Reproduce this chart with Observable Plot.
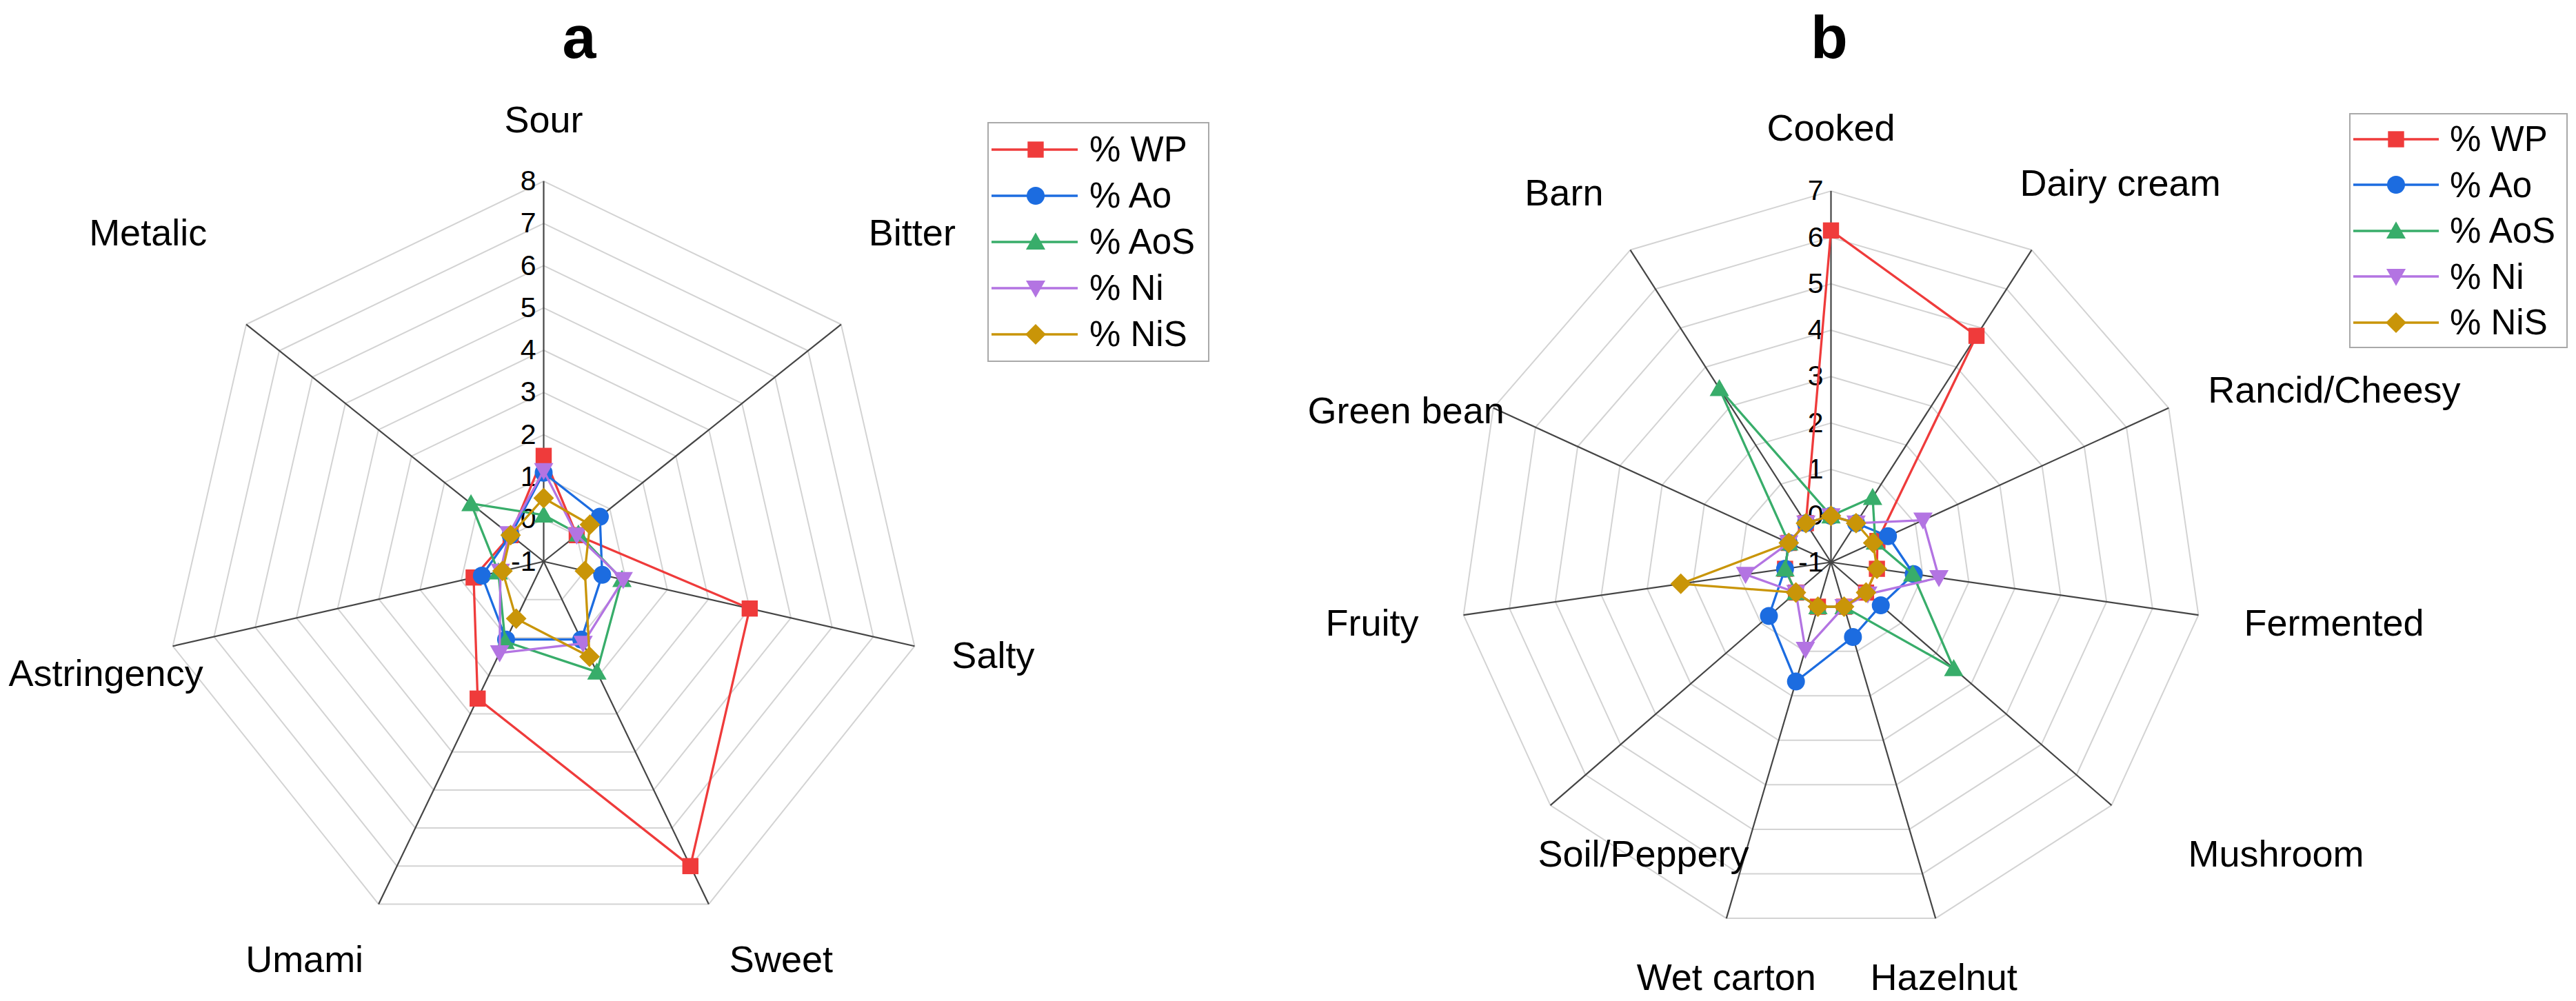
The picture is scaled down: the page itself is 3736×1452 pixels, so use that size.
<!DOCTYPE html>
<html>
<head>
<meta charset="utf-8">
<script src="https://cdn.jsdelivr.net/npm/d3@7"></script>
<script src="https://cdn.jsdelivr.net/npm/@observablehq/plot@0.6"></script>
<style>
  html, body { margin: 0; padding: 0; background: #fff; }
  #page { position: relative; width: 3736px; height: 1452px; overflow: hidden; font-family: "Liberation Sans", Arial, sans-serif; background: #fff; }
  .panel { position: absolute; top: 0; }
  .title { position: absolute; font-weight: bold; font-size: 88px; line-height: 1.15; transform: translateX(-50%); color: #000; }
  .legend { position: absolute; border: 2.5px solid #a9a9a9; background: #fff; box-sizing: border-box; }
  .legend .row { position: absolute; left: 0; height: 60px; display: flex; align-items: center; }
  .legend .row span { font-size: 51px; color: #000; white-space: nowrap; }
</style>
</head>
<body>
<div id="page"></div>
<script>
// ---------------- DATA ----------------
const seriesNames = ["% WP", "% Ao", "% AoS", "% Ni", "% NiS"];

// Panel a : taste attributes
const tasteAttributes = ["Sour", "Bitter", "Salty", "Sweet", "Umami", "Astringency", "Metalic"];
const tasteWP  = [1.5, 0.0, 4.0, 7.0, 2.6, 0.7, 0.0];
const tasteAo  = [1.1, 0.7, 0.42, 1.05, 1.05, 0.5, 0.0];
const tasteAoS = [0.1, 0.05, 0.9, 1.9, 1.1, 0.1, 1.2];
const tasteNi  = [1.15, 0.0, 0.93, 1.15, 1.4, 0.05, 0.05];
const tasteNiS = [0.5, 0.4, 0.0, 1.5, 0.5, 0.0, 0.0];
const tasteTicks = [-1, 0, 1, 2, 3, 4, 5, 6, 7, 8];

// Panel b : aroma attributes
const aromaAttributes = ["Cooked", "Dairy cream", "Rancid/Cheesy", "Fermented", "Mushroom", "Hazelnut", "Wet carton", "Soil/Peppery", "Fruity", "Green bean", "Barn"];
const aromaWP  = [6.15, 4.8, 0.1, 0.0, 0.0, 0.0, 0.0, 0.0, 0.0, 0.0, 0.0];
const aromaAo  = [0.0, 0.0, 0.35, 0.8, 0.42, 0.68, 1.68, 0.77, 0.0, 0.0, 0.0];
const aromaAoS = [0.0, 0.66, 0.05, 0.78, 2.5, 0.0, 0.0, 0.0, 0.0, 0.0, 3.45];
const aromaNi  = [0.0, 0.0, 1.18, 1.35, 0.05, 0.0, 0.96, 0.0, 0.86, 0.0, 0.0];
const aromaNiS = [0.0, 0.0, 0.0, 0.0, 0.0, 0.0, 0.0, 0.0, 2.27, 0.0, 0.0];
const aromaTicks = [-1, 0, 1, 2, 3, 4, 5, 6, 7];

// ---------------- STYLE / LAYOUT ----------------
const colors = ["#ef3b3b", "#1c6ce0", "#38ad6a", "#b374e2", "#c99508"];
// small pixel nudges of the category labels (Excel-like placement), by axis index
const tasteLabelNudge = [[0, 2], [-10, -76], [4, -6], [-20, 0], [28, 0], [0, 20], [-7, -76]];
const aromaLabelNudge = [[0, 0], [-67, -20], [7, 12], [16, 0], [61, 13], [12, 0], [0, 0], [338, 13], [-15, 0], [16, 42], [11, -6]];

function rOf(size) { return Math.sqrt(size / Math.PI); }
const symSquare = { draw(ctx, size) { const s = rOf(size) * 0.9; ctx.rect(-s, -s, 2 * s, 2 * s); } };
const symCircle = { draw(ctx, size) { const r = rOf(size); ctx.moveTo(r, 0); ctx.arc(0, 0, r, 0, 2 * Math.PI); } };
const symTriUp = { draw(ctx, size) { const r = rOf(size); const w = r * 1.08; ctx.moveTo(0, -r * 1.05); ctx.lineTo(w, r * 0.85); ctx.lineTo(-w, r * 0.85); ctx.closePath(); } };
const symTriDown = { draw(ctx, size) { const r = rOf(size); const w = r * 1.08; ctx.moveTo(0, r * 1.05); ctx.lineTo(w, -r * 0.85); ctx.lineTo(-w, -r * 0.85); ctx.closePath(); } };
const symDiamond = { draw(ctx, size) { const r = rOf(size) * 1.15; ctx.moveTo(0, -r); ctx.lineTo(r, 0); ctx.lineTo(0, r); ctx.lineTo(-r, 0); ctx.closePath(); } };
const symbols = [symSquare, symCircle, symTriUp, symTriDown, symDiamond];
const markerR = 13;

const measureCtx = document.createElement("canvas").getContext("2d");
function textWidth(t, px) { measureCtx.font = `${px}px "Liberation Sans", Arial, sans-serif`; return measureCtx.measureText(t).width; }

const page = document.getElementById("page");
const PAGE_H = 1452;

function radar(cfg) {
  const { attrs, seriesValues, ticks, cx, cy, ppu, left, width, nudge } = cfg;
  const height = PAGE_H;
  const vmin = ticks[0], vmax = ticks[ticks.length - 1];
  const n = attrs.length;
  const ang = i => 2 * Math.PI * i / n;
  const pol = (i, v) => { const r = v - vmin; return { x: r * Math.sin(ang(i)), y: r * Math.cos(ang(i)) }; };

  // grid rings (one closed polygon per tick level)
  const rings = [];
  ticks.forEach(t => {
    if (t === vmin) return;
    for (let i = 0; i <= n; i++) { const p = pol(i % n, t); rings.push({ level: t, x: p.x, y: p.y }); }
  });
  // spokes
  const spokes = attrs.map((a, i) => { const p = pol(i, vmax); return { x1: 0, y1: 0, x2: p.x, y2: p.y }; });

  // category labels
  const labelPx = 54;
  const R = (vmax - vmin) * ppu;
  const labels = attrs.map((a, i) => {
    const s = Math.sin(ang(i)), c = Math.cos(ang(i));
    const vx = cx + R * s, vy = cy - R * c;
    const w = textWidth(a, labelPx);
    let bx = Math.abs(s) < 0.3 ? vx : vx + Math.sign(s) * (w / 2 + 50);
    let by = vy - c * 90;
    bx = Math.max(left + 12 + w / 2, Math.min(left + width - 12 - w / 2, bx));
    bx += nudge[i][0]; by += nudge[i][1];
    return { label: a, x: (bx - cx) / ppu, y: (cy - by) / ppu };
  });

  const marks = [
    Plot.line(rings, { x: "x", y: "y", z: "level", stroke: "#d3d3d3", strokeWidth: 2 }),
    Plot.link(spokes, { x1: "x1", y1: "y1", x2: "x2", y2: "y2", stroke: "#454545", strokeWidth: 2.2 }),
    Plot.text(ticks, { x: 0, y: t => t - vmin, text: t => String(t), textAnchor: "end", lineAnchor: "middle", dx: -11, fontSize: 41, fill: "#000" }),
    Plot.text(labels, { x: "x", y: "y", text: "label", textAnchor: "middle", lineAnchor: "middle", fontSize: labelPx, fill: "#000" })
  ];

  seriesValues.forEach((vals, k) => {
    const pts = vals.map((v, i) => ({ ...pol(i, v), attr: attrs[i], value: v }));
    const closed = pts.concat([pts[0]]);
    marks.push(Plot.line(closed, { x: "x", y: "y", stroke: colors[k], strokeWidth: 3.3 }));
    marks.push(Plot.dot(pts, { x: "x", y: "y", symbol: symbols[k], r: markerR, fill: colors[k], stroke: "none" }));
  });

  const plot = Plot.plot({
    width, height,
    marginTop: 0, marginRight: 0, marginBottom: 0, marginLeft: 0,
    x: { domain: [-(cx - left) / ppu, (left + width - cx) / ppu], axis: null },
    y: { domain: [-(height - cy) / ppu, cy / ppu], axis: null },
    style: { fontFamily: '"Liberation Sans", Arial, sans-serif', background: "transparent", overflow: "visible" },
    marks
  });
  plot.classList.add("panel");
  plot.style.left = left + "px";
  page.appendChild(plot);
}

function legend(box) {
  const div = document.createElement("div");
  div.className = "legend";
  Object.assign(div.style, { left: box.left + "px", top: box.top + "px", width: box.width + "px", height: box.height + "px" });
  seriesNames.forEach((name, k) => {
    const row = document.createElement("div");
    row.className = "row";
    row.style.top = (box.firstRow + k * box.rowStep - 30 - 2.5) + "px";
    const svgNS = "http://www.w3.org/2000/svg";
    const svg = document.createElementNS(svgNS, "svg");
    svg.setAttribute("width", box.textLeft);
    svg.setAttribute("height", 60);
    const line = document.createElementNS(svgNS, "line");
    line.setAttribute("x1", box.lineX1); line.setAttribute("x2", box.lineX2);
    line.setAttribute("y1", 30); line.setAttribute("y2", 30);
    line.setAttribute("stroke", colors[k]); line.setAttribute("stroke-width", 3.3);
    svg.appendChild(line);
    const p = d3.path();
    symbols[k].draw(p, markerR * markerR * Math.PI);
    const path = document.createElementNS(svgNS, "path");
    path.setAttribute("d", p.toString());
    path.setAttribute("fill", colors[k]);
    path.setAttribute("transform", `translate(${box.markerX},30)`);
    svg.appendChild(path);
    row.appendChild(svg);
    const span = document.createElement("span");
    span.textContent = name;
    row.appendChild(span);
    div.appendChild(row);
  });
  page.appendChild(div);
}

function title(text, x) {
  const d = document.createElement("div");
  d.className = "title";
  d.textContent = text;
  d.style.left = x + "px";
  d.style.top = "3px";
  page.appendChild(d);
}

radar({
  attrs: tasteAttributes,
  seriesValues: [tasteWP, tasteAo, tasteAoS, tasteNi, tasteNiS],
  ticks: tasteTicks,
  cx: 788, cy: 814, ppu: 61.3, left: 0, width: 1868, nudge: tasteLabelNudge
});
radar({
  attrs: aromaAttributes,
  seriesValues: [aromaWP, aromaAo, aromaAoS, aromaNi, aromaNiS],
  ticks: aromaTicks,
  cx: 2655, cy: 815, ppu: 67.3, left: 1868, width: 1868, nudge: aromaLabelNudge
});

legend({ left: 1432, top: 177, width: 322, height: 348, firstRow: 40, rowStep: 67, lineX1: 4, lineX2: 129, markerX: 68, textLeft: 146 });
legend({ left: 3407, top: 164, width: 317, height: 341, firstRow: 38, rowStep: 66.5, lineX1: 4, lineX2: 128, markerX: 66, textLeft: 144 });

title("a", 840);
title("b", 2653);
</script>
</body>
</html>
